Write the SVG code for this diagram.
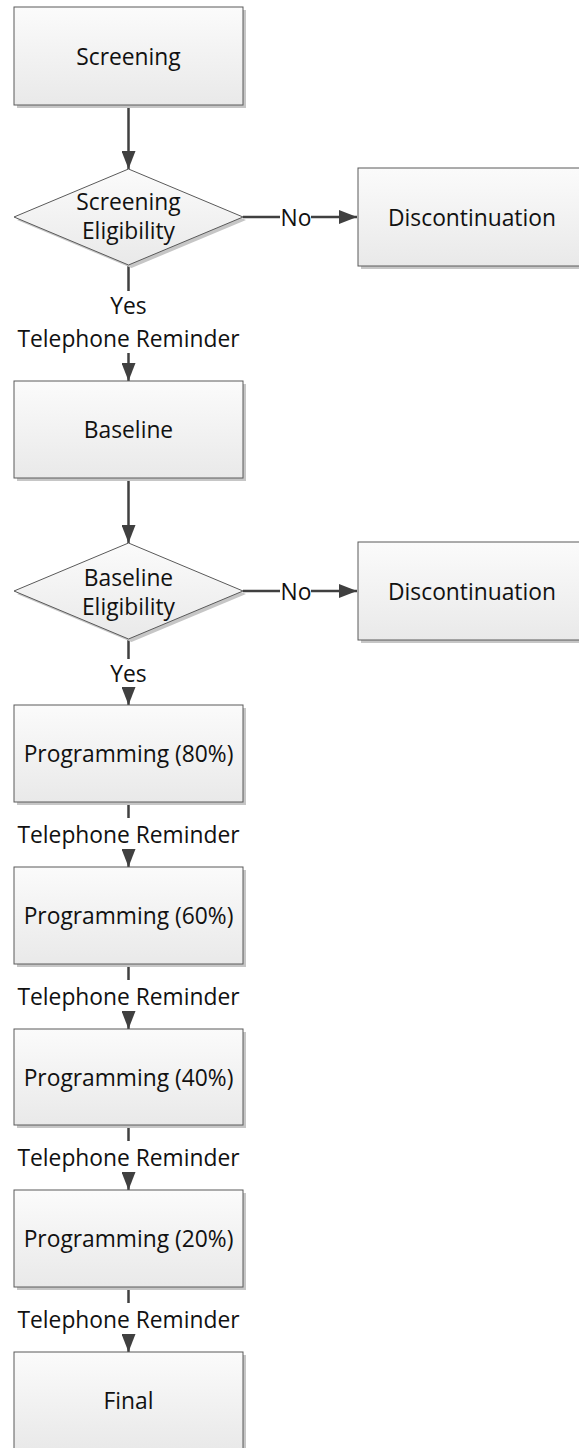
<svg xmlns="http://www.w3.org/2000/svg" width="579" height="1448" viewBox="0 0 579 1448">
<defs>
<linearGradient id="g" x1="0" y1="0" x2="0" y2="1">
<stop offset="0" stop-color="#fbfbfb"/>
<stop offset="1" stop-color="#e9e9e9"/>
</linearGradient>
<marker id="a" viewBox="0 0 18 14" refX="18" refY="7" markerWidth="18" markerHeight="14" orient="auto" markerUnits="userSpaceOnUse">
<path d="M0,0 L18,7 L0,14 Z" fill="#404040"/>
</marker>
</defs>
<style>
.box{fill:url(#g);stroke:#5a5a5a;stroke-width:1}
.sh{fill:#c6c6c6}
.t{font-family:"Open Sans","Noto Sans",sans-serif;font-size:22.8px;fill:#111;text-anchor:middle;dominant-baseline:central}
.c{stroke:#404040;stroke-width:2.5;fill:none}
</style>
<rect width="579" height="1448" fill="#fff"/>
<g id="connectors">
<line class="c" x1="128.5" y1="105" x2="128.5" y2="169" marker-end="url(#a)"/>
<line class="c" x1="243" y1="217" x2="280" y2="217"/>
<line class="c" x1="311" y1="217" x2="357" y2="217" marker-end="url(#a)"/>
<text class="t" x="296" y="217">No</text>
<line class="c" x1="128.5" y1="265" x2="128.5" y2="291"/>
<text class="t" x="128.5" y="305">Yes</text>
<text class="t" x="128.5" y="338">Telephone Reminder</text>
<line class="c" x1="128.5" y1="353" x2="128.5" y2="381" marker-end="url(#a)"/>
<line class="c" x1="128.5" y1="478" x2="128.5" y2="543" marker-end="url(#a)"/>
<line class="c" x1="243" y1="591" x2="280" y2="591"/>
<line class="c" x1="311" y1="591" x2="357" y2="591" marker-end="url(#a)"/>
<text class="t" x="296" y="591">No</text>
<line class="c" x1="128.5" y1="639" x2="128.5" y2="659"/>
<text class="t" x="128.5" y="673">Yes</text>
<line class="c" x1="128.5" y1="687" x2="128.5" y2="705" marker-end="url(#a)"/>
<line class="c" x1="128.5" y1="802" x2="128.5" y2="818"/>
<text class="t" x="128.5" y="834">Telephone Reminder</text>
<line class="c" x1="128.5" y1="850" x2="128.5" y2="867" marker-end="url(#a)"/>
<line class="c" x1="128.5" y1="964" x2="128.5" y2="980"/>
<text class="t" x="128.5" y="996">Telephone Reminder</text>
<line class="c" x1="128.5" y1="1012" x2="128.5" y2="1029" marker-end="url(#a)"/>
<line class="c" x1="128.5" y1="1125" x2="128.5" y2="1141"/>
<text class="t" x="128.5" y="1157">Telephone Reminder</text>
<line class="c" x1="128.5" y1="1173" x2="128.5" y2="1190" marker-end="url(#a)"/>
<line class="c" x1="128.5" y1="1287" x2="128.5" y2="1303"/>
<text class="t" x="128.5" y="1319">Telephone Reminder</text>
<line class="c" x1="128.5" y1="1335" x2="128.5" y2="1352" marker-end="url(#a)"/>
</g>
<g id="screening">
<rect class="sh" x="17" y="10" width="229" height="98"/>
<rect class="box" x="14" y="7" width="229" height="98"/>
<text class="t" x="128.5" y="56">Screening</text>
</g>
<g id="screening-eligibility">
<polygon class="sh" points="131.5,172 246,220 131.5,268 17,220"/>
<polygon class="box" points="128.5,169 243,217 128.5,265 14,217"/>
<text class="t" x="128.5" y="201">Screening</text>
<text class="t" x="128.5" y="230">Eligibility</text>
</g>
<g id="discontinuation-1">
<rect class="sh" x="361" y="171" width="222" height="98"/>
<rect class="box" x="358" y="168" width="225" height="98"/>
<text class="t" x="472" y="217">Discontinuation</text>
</g>
<g id="baseline">
<rect class="sh" x="17" y="384" width="229" height="97"/>
<rect class="box" x="14" y="381" width="229" height="97"/>
<text class="t" x="128.5" y="429">Baseline</text>
</g>
<g id="baseline-eligibility">
<polygon class="sh" points="131.5,546 246,594 131.5,642 17,594"/>
<polygon class="box" points="128.5,543 243,591 128.5,639 14,591"/>
<text class="t" x="128.5" y="577">Baseline</text>
<text class="t" x="128.5" y="606">Eligibility</text>
</g>
<g id="discontinuation-2">
<rect class="sh" x="361" y="545" width="222" height="98"/>
<rect class="box" x="358" y="542" width="225" height="98"/>
<text class="t" x="472" y="591">Discontinuation</text>
</g>
<g id="programming-80">
<rect class="sh" x="17" y="708" width="229" height="97"/>
<rect class="box" x="14" y="705" width="229" height="97"/>
<text class="t" x="128.5" y="753">Programming (80%)</text>
</g>
<g id="programming-60">
<rect class="sh" x="17" y="870" width="229" height="97"/>
<rect class="box" x="14" y="867" width="229" height="97"/>
<text class="t" x="128.5" y="915">Programming (60%)</text>
</g>
<g id="programming-40">
<rect class="sh" x="17" y="1032" width="229" height="96"/>
<rect class="box" x="14" y="1029" width="229" height="96"/>
<text class="t" x="128.5" y="1077">Programming (40%)</text>
</g>
<g id="programming-20">
<rect class="sh" x="17" y="1193" width="229" height="97"/>
<rect class="box" x="14" y="1190" width="229" height="97"/>
<text class="t" x="128.5" y="1238">Programming (20%)</text>
</g>
<g id="final">
<rect class="sh" x="17" y="1355" width="229" height="97"/>
<rect class="box" x="14" y="1352" width="229" height="97"/>
<text class="t" x="128.5" y="1400">Final</text>
</g>
</svg>
